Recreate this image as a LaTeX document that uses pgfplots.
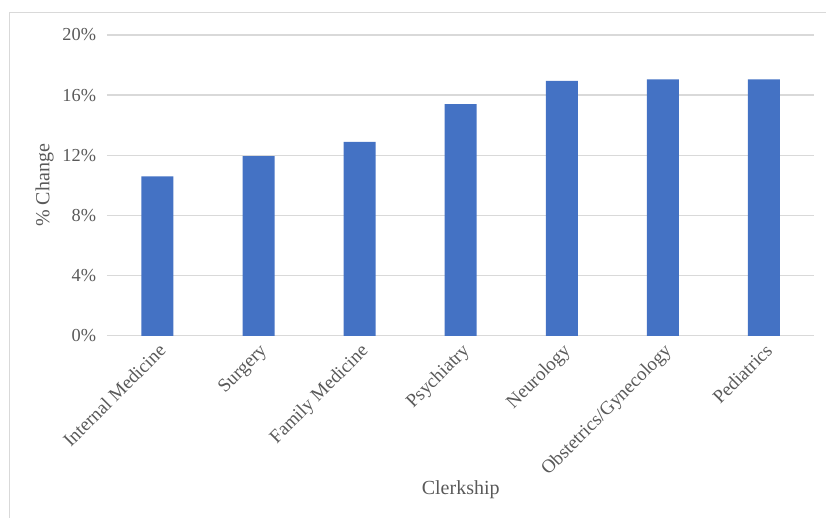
\documentclass[border=0pt]{standalone}
\usepackage{pgfplots}
\pgfplotsset{compat=1.18}
\usepackage{fontspec}
\setmainfont{Liberation Serif}
\definecolor{barblue}{HTML}{4472C4}
\definecolor{gridgray}{HTML}{D9D9D9}
\definecolor{txtgray}{HTML}{595959}
\begin{document}
\begin{tikzpicture}
\path (0,0) rectangle (495.6pt,310.8pt);
\draw[gridgray, line width=0.6pt] (6pt,0) -- (6pt,303pt) -- (495.6pt,303pt);
\begin{axis}[
  at={(64.2pt,109.2pt)}, anchor=south west,
  scale only axis, width=424.8pt, height=180.6pt,
  ybar, bar width=19.2pt,
  xmin=-0.5, xmax=6.5, ymin=0, ymax=20,
  xtick=data,
  xticklabels={Internal Medicine,Surgery,Family Medicine,Psychiatry,Neurology,Obstetrics/Gynecology,Pediatrics},
  xticklabel style={rotate=45, anchor=north east, font=\fontsize{11.4}{13}\selectfont, text=txtgray, inner sep=1pt, xshift=-1.7pt, yshift=-1.7pt},
  ytick={0,4,8,12,16,20},
  yticklabel={\pgfmathprintnumber{\tick}\%},
  /pgf/number format/assume math mode=true,
  yticklabel style={font=\fontsize{11}{13}\selectfont, text=txtgray, xshift=-3pt},
  ymajorgrids, grid style={gridgray, line width=0.8pt},
  axis line style={draw=none},
  major tick length=0pt,
  ylabel={\% Change},
  ylabel style={at={(axis description cs:-0.088,0.5)}, anchor=center, font=\fontsize{12}{14}\selectfont, text=txtgray},
  xlabel={Clerkship},
  xlabel style={at={(axis description cs:0.5,-0.51)}, anchor=center, font=\fontsize{12}{14}\selectfont, text=txtgray},
]
\addplot[fill=barblue, draw=none] coordinates {(0,10.6) (1,11.95) (2,12.9) (3,15.4) (4,16.95) (5,17.05) (6,17.05)};
\end{axis}
\end{tikzpicture}
\end{document}
